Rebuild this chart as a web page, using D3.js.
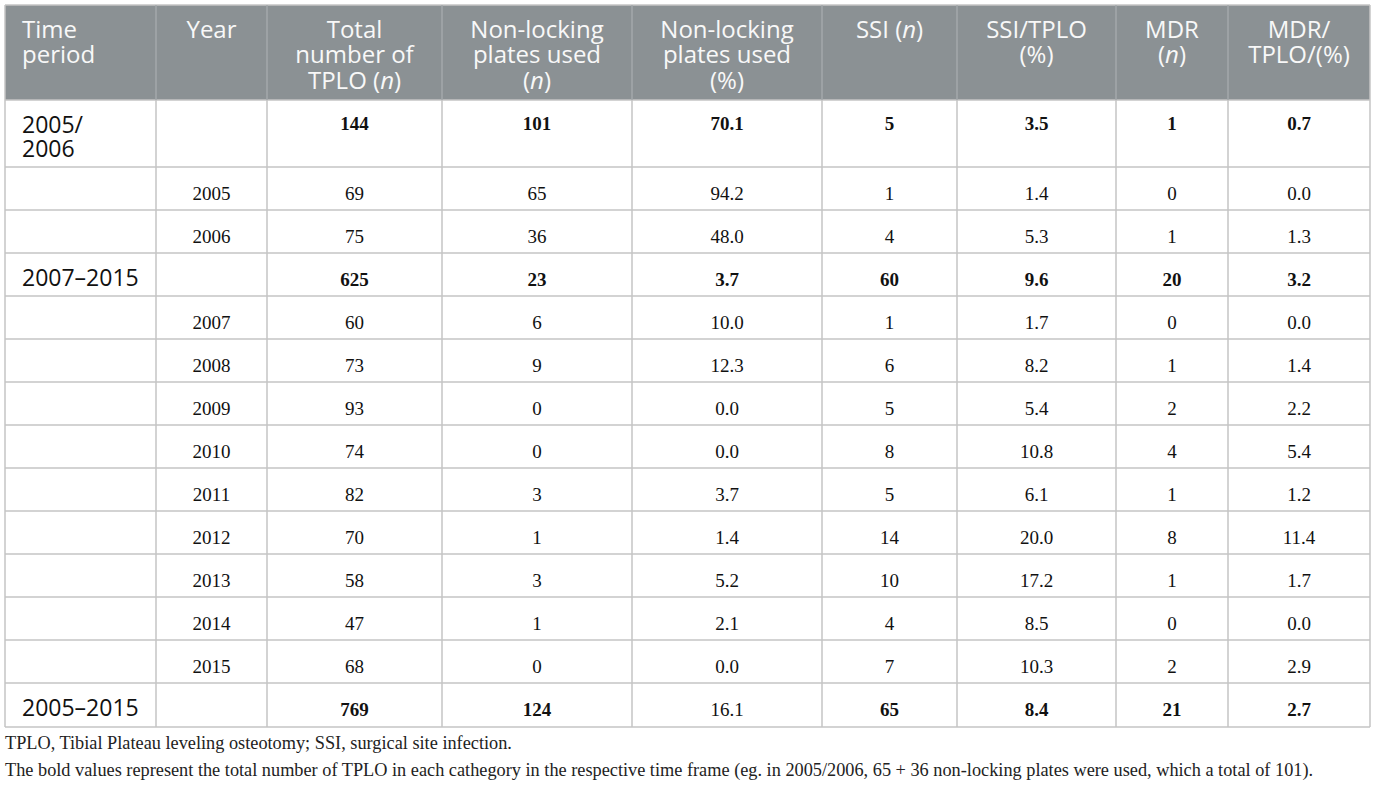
<!DOCTYPE html>
<html>
<head>
<meta charset="utf-8">
<script src="https://cdn.jsdelivr.net/npm/d3@7"></script>
<style>
  body { margin: 0; background: #fff; }
  svg { display: block; }
</style>
</head>
<body>
<div id="chart"></div>
<script>
// table values, one array per column
const timePeriod = ["2005/|2006", "", "", "2007–2015", "", "", "", "", "", "", "", "", "", "2005–2015"];
const years = ["", "2005", "2006", "", "2007", "2008", "2009", "2010", "2011", "2012", "2013", "2014", "2015", ""];
const totalTPLO = [144, 69, 75, 625, 60, 73, 93, 74, 82, 70, 58, 47, 68, 769];
const nonLockingN = [101, 65, 36, 23, 6, 9, 0, 0, 3, 1, 3, 1, 0, 124];
const nonLockingPct = ["70.1", "94.2", "48.0", "3.7", "10.0", "12.3", "0.0", "0.0", "3.7", "1.4", "5.2", "2.1", "0.0", "16.1"];
const ssiN = [5, 1, 4, 60, 1, 6, 5, 8, 5, 14, 10, 4, 7, 65];
const ssiPct = ["3.5", "1.4", "5.3", "9.6", "1.7", "8.2", "5.4", "10.8", "6.1", "20.0", "17.2", "8.5", "10.3", "8.4"];
const mdrN = [1, 0, 1, 20, 0, 1, 2, 4, 1, 8, 1, 0, 2, 21];
const mdrPct = ["0.7", "0.0", "1.3", "3.2", "0.0", "1.4", "2.2", "5.4", "1.2", "11.4", "1.7", "0.0", "2.9", "2.7"];
const boldRows = [0, 3, 13];

// header lines, "*" marks italic part
const headers = [
  ["Time", "period"],
  ["Year"],
  ["Total", "number of", "TPLO (*n*)"],
  ["Non-locking", "plates used", "(*n*)"],
  ["Non-locking", "plates used", "(%)"],
  ["SSI (*n*)"],
  ["SSI/TPLO", "(%)"],
  ["MDR", "(*n*)"],
  ["MDR/", "TPLO/(%)"]
];

const notes = [
  "TPLO, Tibial Plateau leveling osteotomy; SSI, surgical site infection.",
  "The bold values represent the total number of TPLO in each cathegory in the respective time frame (eg. in 2005/2006, 65 + 36 non-locking plates were used, which a total of 101)."
];

const W = 1375, H = 785;
const colEdges = [5, 156, 267, 442, 632, 822, 957, 1116, 1228, 1370];
const headTop = 5, headBottom = 100;
const rowHeights = [67, 43, 43, 43, 43, 43, 43, 43, 43, 43, 43, 43, 43, 44];
const rowEdges = [headBottom];
rowHeights.forEach(h => rowEdges.push(rowEdges[rowEdges.length - 1] + h));

const sans = "'Open Sans', 'Noto Sans', sans-serif";
const serif = "'Liberation Serif', 'DejaVu Serif', serif";

const columns = [timePeriod, years, totalTPLO, nonLockingN, nonLockingPct, ssiN, ssiPct, mdrN, mdrPct];

const svg = d3.select("#chart").append("svg")
  .attr("width", W).attr("height", H);

// header background
svg.append("rect")
  .attr("x", colEdges[0]).attr("y", headTop)
  .attr("width", colEdges[9] - colEdges[0]).attr("height", headBottom - headTop)
  .attr("fill", "#8b9194");

// header text
headers.forEach((lines, c) => {
  const left = c === 0;
  const x = left ? colEdges[0] + 17 : (colEdges[c] + colEdges[c + 1]) / 2;
  const t = svg.append("text")
    .attr("font-family", sans).attr("font-size", 24)
    .attr("fill", "#f8f8f8")
    .attr("text-anchor", left ? "start" : "middle");
  lines.forEach((line, i) => {
    const parts = line.split("*");
    parts.forEach((p, j) => {
      if (!p) return;
      const ts = t.append("tspan").text(p)
        .attr("font-style", j % 2 ? "italic" : "normal");
      if (j === 0 || (j === 1 && !parts[0])) {
        ts.attr("x", x).attr("y", 38 + i * 25.3);
      }
    });
  });
});

// body cells
for (let r = 0; r < rowHeights.length; r++) {
  const top = rowEdges[r];
  const baseY = r === 0 ? 130 : top + 32.5;
  columns.forEach((col, c) => {
    const v = col[r];
    if (v === "" || v === undefined) return;
    if (c === 0) {
      const t = svg.append("text")
        .attr("font-family", sans).attr("font-size", 23)
        .attr("fill", "#111");
      String(v).split("|").forEach((ln, i) => {
        t.append("tspan").attr("x", colEdges[0] + 17)
          .attr("y", (r === 0 ? 133 : baseY) + i * 24).text(ln);
      });
      return;
    }
    const bold = c >= 2 && boldRows.includes(r) && !(r === 13 && c === 4);
    svg.append("text")
      .attr("x", (colEdges[c] + colEdges[c + 1]) / 2)
      .attr("y", baseY)
      .attr("text-anchor", "middle")
      .attr("font-family", serif).attr("font-size", 19)
      .attr("font-weight", bold ? "bold" : "normal")
      .attr("fill", "#111")
      .text(v);
  });
}

// grid lines
const bodyTop = headBottom, bodyBot = rowEdges[rowEdges.length - 1];
svg.append("g").selectAll("line").data(rowEdges)
  .join("line")
  .attr("x1", colEdges[0]).attr("x2", colEdges[9])
  .attr("y1", d => d).attr("y2", d => d)
  .attr("stroke", "#c4c4c4").attr("stroke-width", 1.5);
svg.append("line")
  .attr("x1", colEdges[0]).attr("x2", colEdges[9])
  .attr("y1", headTop).attr("y2", headTop)
  .attr("stroke", "#c4c4c4").attr("stroke-width", 1.5);
svg.append("g").selectAll("line").data(colEdges)
  .join("line")
  .attr("x1", d => d).attr("x2", d => d)
  .attr("y1", bodyTop).attr("y2", bodyBot)
  .attr("stroke", "#c4c4c4").attr("stroke-width", 1.5);
svg.append("g").selectAll("line").data(colEdges)
  .join("line")
  .attr("x1", d => d).attr("x2", d => d)
  .attr("y1", headTop).attr("y2", headBottom)
  .attr("stroke", (d, i) => (i === 0 || i === 9) ? "#c4c4c4" : "#a3a8ab")
  .attr("stroke-width", 1.5);

// footnotes
notes.forEach((n, i) => {
  svg.append("text")
    .attr("x", 5).attr("y", 749 + i * 27)
    .attr("font-family", serif).attr("font-size", 18.3)
    .attr("fill", "#222")
    .text(n);
});
</script>
</body>
</html>
